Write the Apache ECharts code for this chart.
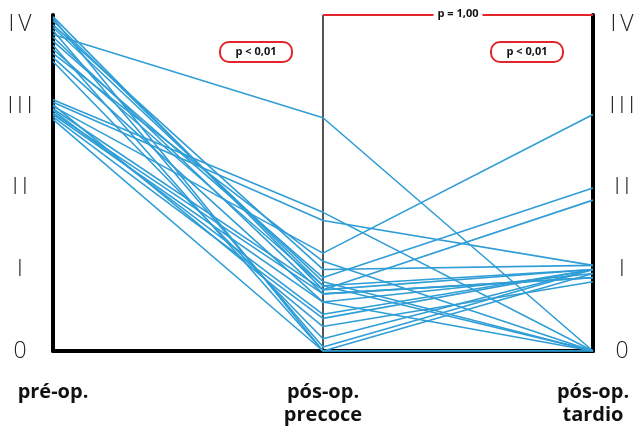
<!DOCTYPE html>
<html>
<head>
<meta charset="utf-8">
<script src="https://cdn.jsdelivr.net/npm/echarts@6/dist/echarts.min.js"></script>
<style>html,body{margin:0;padding:0;background:#fff}#c{width:638px;height:430px}</style>
</head>
<body>
<div id="c"></div>
<script>
var categories = ['pré-op.', 'pós-op.\nprecoce', 'pós-op.\ntardio'];
var tickLabels = ['0', 'I', 'II', 'III', 'IV'];
var preOp     = [3.88, 4.10, 4.08, 4.05, 4.00, 3.97, 3.93, 3.85, 3.80, 3.75, 3.70, 3.65, 3.60, 3.55, 3.08, 3.05, 3.02, 3.00, 2.97, 2.95, 2.92, 2.90, 2.87, 2.84];
var earlyPost = [2.86, 0.75, 0.00, 0.80, 1.00, 0.85, 0.05, 0.70, 0.90, 0.00, 0.80, 1.10, 0.60, 0.15, 1.70, 1.60, 0.30, 1.20, 0.75, 0.45, 0.70, 0.60, 0.40, 0.00];
var latePost  = [0.00, 1.00, 0.95, 0.00, 1.05, 0.00, 1.00, 0.90, 2.00, 0.00, 1.00, 0.00, 0.95, 1.00, 0.00, 1.05, 0.85, 2.90, 1.85, 1.00, 0.90, 0.00, 1.00, 0.00];
var pAnnotations = ['p < 0,01', 'p < 0,01', 'p = 1,00'];

var chart = echarts.init(document.getElementById('c'), null, {renderer: 'canvas'});
var series = preOp.map(function (v, i) {
  return {
    type: 'line', symbol: 'none', silent: true,
    lineStyle: {color: '#2f9dd6', width: 1.6},
    data: [preOp[i], earlyPost[i], latePost[i]]
  };
});
function roman(v) {
  if (Math.abs(v - Math.round(v)) < 1e-6 && v >= 0 && v <= 4) {
    return tickLabels[Math.round(v)].split('').join('\u2009');
  }
  return '';
}
var yBase = {
  type: 'value', min: 0, max: 4.12, interval: 1,
  splitLine: {show: false}, axisTick: {show: false},
  axisLine: {show: true, lineStyle: {color: '#000', width: 4}},
  axisLabel: {formatter: roman, align: 'center', fontFamily: 'Open Sans', fontWeight: 300, fontSize: 23, color: '#222', showMaxLabel: false}
};
chart.setOption({
  animation: false,
  grid: {left: 53, right: 45, top: 15, bottom: 79},
  xAxis: {
    type: 'category', data: categories, boundaryGap: false,
    axisLine: {lineStyle: {color: '#000', width: 4}},
    axisTick: {show: false},
    splitLine: {show: true, interval: function (i) { return i === 1; }, lineStyle: {color: '#555', width: 2}},
    axisLabel: {margin: 30, fontFamily: 'Open Sans', fontWeight: 'bold', fontSize: 20, color: '#111', lineHeight: 23}
  },
  yAxis: [
    Object.assign({}, yBase, {position: 'left', axisLabel: Object.assign({}, yBase.axisLabel, {margin: 33})}),
    Object.assign({}, yBase, {position: 'right', axisLabel: Object.assign({}, yBase.axisLabel, {margin: 29})})
  ],
  series: series
});

var pMid = chart.convertToPixel({xAxisIndex: 0, yAxisIndex: 0}, [1, 0]);
var pRight = chart.convertToPixel({xAxisIndex: 0, yAxisIndex: 0}, [2, 0]);
var topY = chart.convertToPixel({yAxisIndex: 0}, 4.12);
var boxY = topY + 37;
function pBox(cx, text) {
  return [
    {type: 'rect', shape: {x: cx - 36, y: boxY - 10, width: 72, height: 20, r: 9},
     style: {fill: '#fff', stroke: '#e3262d', lineWidth: 2}, z: 100},
    {type: 'text', x: cx, y: boxY, style: {text: text, font: 'bold 11px "Open Sans"', fill: '#111', align: 'center', verticalAlign: 'middle'}, z: 101}
  ];
}
var midX = (pMid[0] + pRight[0]) / 2;
var graphics = [].concat(
  pBox(pMid[0] - 67, pAnnotations[0]),
  pBox(pRight[0] - 66, pAnnotations[1]),
  [
    {type: 'line', shape: {x1: pMid[0], y1: topY, x2: pRight[0], y2: topY}, style: {stroke: '#e3262d', lineWidth: 2}, z: 100},
    {type: 'text', x: midX, y: topY - 1, style: {text: pAnnotations[2], font: 'bold 11px "Open Sans"', fill: '#111', align: 'center', verticalAlign: 'middle', backgroundColor: '#fff', padding: [0, 4]}, z: 101}
  ]
);
chart.setOption({graphic: graphics});
</script>
</body>
</html>
